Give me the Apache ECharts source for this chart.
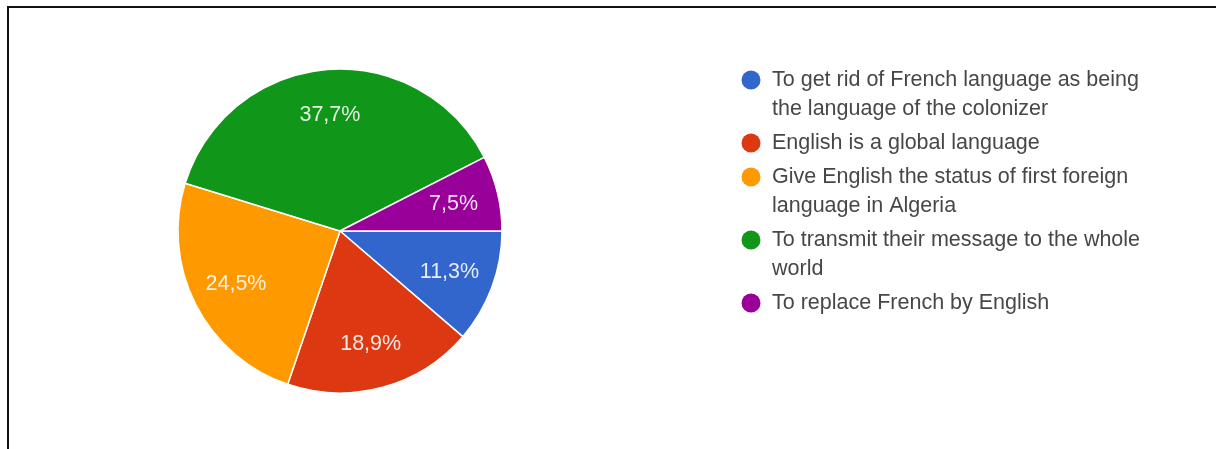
<!DOCTYPE html>
<html>
<head>
<meta charset="utf-8">
<script src="https://cdn.jsdelivr.net/npm/echarts@6/dist/echarts.min.js"></script>
<style>
  html, body { margin: 0; padding: 0; background: #ffffff; }
  #chart { width: 1216px; height: 449px; }
</style>
</head>
<body>
<div id="chart"></div>
<script>
// Answer options of the survey question, in pie order (clockwise from 3 o'clock)
const categories = [
  'To get rid of French language as being the language of the colonizer',
  'English is a global language',
  'Give English the status of first foreign language in Algeria',
  'To transmit their message to the whole world',
  'To replace French by English'
];
// Share of respondents per option, in percent
const shares = [11.3, 18.9, 24.5, 37.7, 7.5];
const colors = ['#3366cc', '#dc3912', '#ff9900', '#109618', '#990099'];

const FONT_FAMILY = '"Liberation Sans", Arial, Helvetica, sans-serif';
const FONT_SIZE = 21.5;
const PIE_CX = 340, PIE_CY = 231, PIE_R = 162;
const LABEL_PUSH = 1.39;           // moves slice labels outward from half radius

// Legend geometry
const LEGEND_DOT_X = 751, LEGEND_TEXT_X = 772, LEGEND_TOP = 80;
const LEGEND_LINE_H = 29, LEGEND_GAP = 5, LEGEND_WRAP = 392;

const measureCtx = document.createElement('canvas').getContext('2d');
function wrapWords(text, maxWidth) {
  measureCtx.font = FONT_SIZE + 'px ' + FONT_FAMILY;
  const words = text.split(' ');
  const lines = [];
  let cur = '';
  words.forEach(w => {
    const test = cur ? cur + ' ' + w : w;
    if (cur && measureCtx.measureText(test).width > maxWidth) {
      lines.push(cur);
      cur = w;
    } else {
      cur = test;
    }
  });
  if (cur) lines.push(cur);
  return lines;
}

// Legend built as graphic elements so each marker sits on the first text line
const legendGraphics = [];
let cursorY = LEGEND_TOP;
categories.forEach((name, i) => {
  const lines = wrapWords(name, LEGEND_WRAP);
  legendGraphics.push({
    type: 'circle',
    shape: { cx: LEGEND_DOT_X, cy: cursorY, r: 9.5 },
    style: { fill: colors[i] },
    silent: true
  });
  legendGraphics.push({
    type: 'text',
    x: LEGEND_TEXT_X,
    y: cursorY - LEGEND_LINE_H / 2,
    style: {
      text: lines.join('\n'),
      font: FONT_SIZE + 'px ' + FONT_FAMILY,
      fill: '#474747',
      lineHeight: LEGEND_LINE_H,
      verticalAlign: 'top',
      align: 'left'
    },
    silent: true
  });
  cursorY += lines.length * LEGEND_LINE_H + LEGEND_GAP;
});

// Frame lines along the top and left edges
const frame = [
  { type: 'line', shape: { x1: 7, y1: 7, x2: 1216, y2: 7 }, style: { stroke: '#111', lineWidth: 2 }, silent: true },
  { type: 'line', shape: { x1: 8, y1: 6, x2: 8, y2: 449 }, style: { stroke: '#111', lineWidth: 2 }, silent: true }
];

const chart = echarts.init(document.getElementById('chart'), null, { renderer: 'canvas' });
chart.setOption({
  backgroundColor: '#ffffff',
  animation: false,
  color: colors,
  graphic: frame.concat(legendGraphics),
  series: [{
    type: 'pie',
    center: [PIE_CX, PIE_CY],
    radius: [0, PIE_R],
    startAngle: 0,
    clockwise: true,
    avoidLabelOverlap: false,
    silent: true,
    data: categories.map((name, i) => ({ name: name, value: shares[i] })),
    itemStyle: { borderColor: '#ffffff', borderWidth: 1.5 },
    label: {
      show: true,
      position: 'inside',
      formatter: p => p.value.toFixed(1).replace('.', ',') + '%',
      color: 'rgba(255,255,255,0.88)',
      fontFamily: FONT_FAMILY,
      fontSize: FONT_SIZE
    },
    labelLine: { show: false },
    labelLayout: function (p) {
      const lx = p.labelRect.x + p.labelRect.width / 2;
      const ly = p.labelRect.y + p.labelRect.height / 2;
      return {
        x: PIE_CX + (lx - PIE_CX) * LABEL_PUSH,
        y: PIE_CY + (ly - PIE_CY) * LABEL_PUSH,
        align: 'center',
        verticalAlign: 'middle'
      };
    }
  }]
});
</script>
</body>
</html>
